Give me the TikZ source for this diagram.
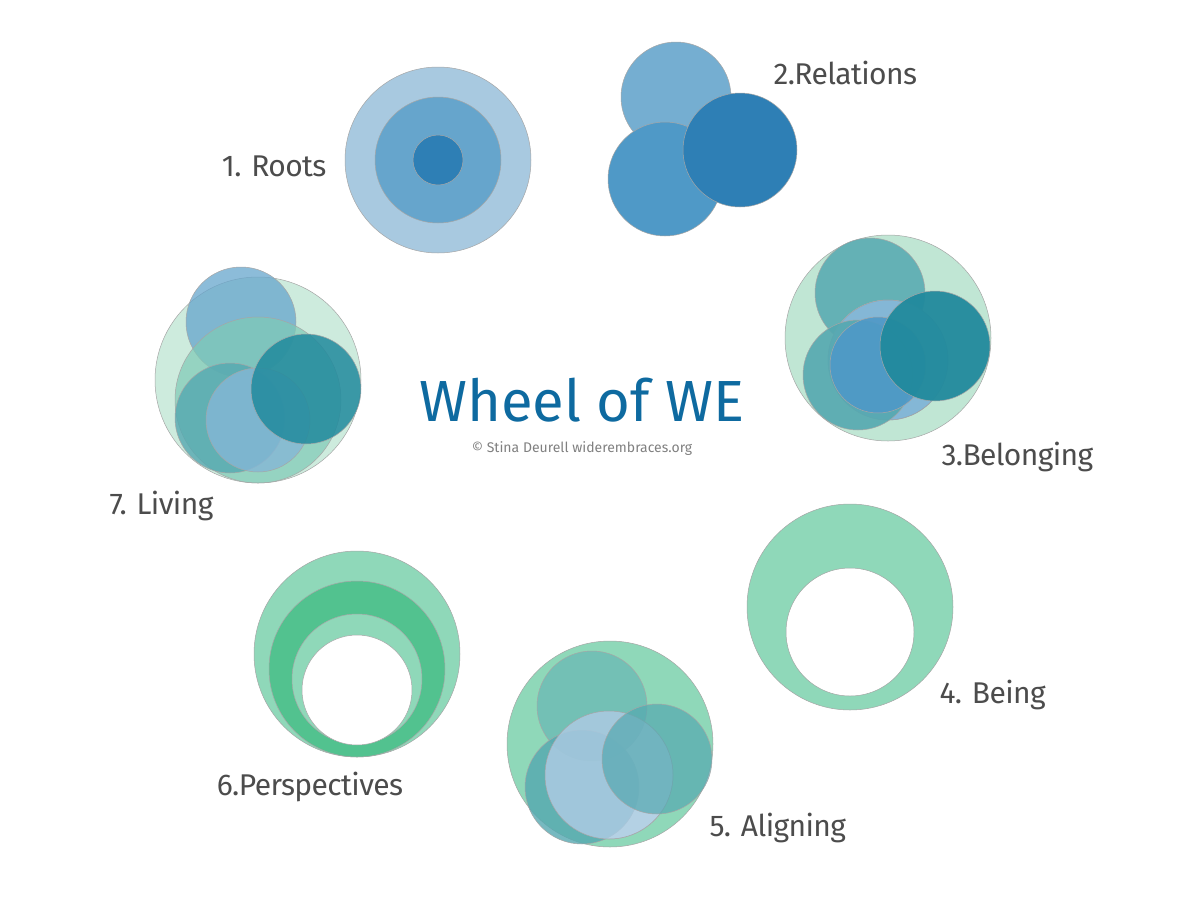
\documentclass[tikz,border=0pt]{standalone}
\usepackage{fontspec}
\setmainfont{Fira Sans}
\begin{document}
\begin{tikzpicture}[x=1pt,y=-1pt,
  c/.style={draw=black!35,line width=0.5pt,fill opacity=0.85},
  lab/.style={text=black!70,font=\fontsize{30}{32}\selectfont\addfontfeatures{LetterSpace=-2}}]
\definecolor{lb}{HTML}{A8C9E0}\definecolor{mb}{HTML}{66A5CC}\definecolor{db}{HTML}{2E7FB5}
\definecolor{b2}{HTML}{4F99C7}\definecolor{lg}{HTML}{8FD8B9}\definecolor{vlg}{HTML}{C0E6D4}
\definecolor{tl}{HTML}{55A8B0}\definecolor{dt}{HTML}{218A9D}\definecolor{mg}{HTML}{52C28F}
\definecolor{title}{HTML}{0E6AA0}
\useasboundingbox (0,0) rectangle (1200,900);
% 1 Roots
\fill[c,fill=lb,fill opacity=1] (438,160) circle (93);
\fill[c,fill=mb,fill opacity=1] (438,160) circle (63);
\fill[c,fill=db,fill opacity=1] (438,160) circle (25);
% 2 Relations
\filldraw[c,fill=mb,fill opacity=0.9] (676,97) circle (55);
\filldraw[c,fill=b2,fill opacity=1] (665,179) circle (57);
\filldraw[c,fill=db,fill opacity=1] (740,150) circle (57);
% 3 Belonging
\filldraw[c,fill=vlg,fill opacity=1] (888,338) circle (103);
\filldraw[c,fill=tl] (870,293) circle (55);
\filldraw[c,fill=white,fill opacity=1] (888,360) circle (60);
\filldraw[c,fill=mb,fill opacity=0.8] (888,360) circle (60);
\filldraw[c,fill=tl,fill opacity=0.9] (858,375) circle (55);
\filldraw[c,fill=b2,fill opacity=0.9] (878,365) circle (48);
\filldraw[c,fill=dt,fill opacity=0.95] (935,346) circle (55);
% 4 Being
\filldraw[c,fill=lg,fill opacity=1,even odd rule] (850,607) circle (103) (850,632) circle (64);
% 5 Aligning
\filldraw[c,fill=lg,fill opacity=1] (610,744) circle (103);
\filldraw[c,fill=white,fill opacity=1] (609,775) circle (64);
\filldraw[c,fill=tl!60!lg,fill opacity=0.8] (592,706) circle (55);
\filldraw[c,fill=tl,fill opacity=0.8] (582,787) circle (57);
\filldraw[c,fill=lb,fill opacity=0.85] (609,775) circle (64);
\filldraw[c,fill=tl,fill opacity=0.7] (657,759) circle (55);
% 6 Perspectives
\filldraw[c,fill=lg,fill opacity=1] (357,654) circle (103);
\filldraw[c,fill=mg,fill opacity=1] (357,669) circle (88);
\filldraw[c,fill=lg,fill opacity=1] (357,679) circle (65);
\filldraw[c,fill=white,fill opacity=1] (357,690) circle (55);
% 7 Living
\filldraw[c,fill=vlg!80!white,fill opacity=1] (258,380) circle (103);
\filldraw[c,fill=mb,fill opacity=0.75] (241,322) circle (55);
\filldraw[c,fill=lg!70!tl,fill opacity=0.7] (258,400) circle (83);
\filldraw[c,fill=tl,fill opacity=0.8] (230,418) circle (55);
\filldraw[c,fill=mb!80!white,fill opacity=0.8] (258,420) circle (52);
\filldraw[c,fill=dt,fill opacity=0.85] (306,389) circle (55);
% texts
\node[lab,anchor=east] (l1) at (330,166) {1. Roots};
\node[lab,anchor=west] (l2) at (770,73) {2.Relations};
\node[lab,anchor=west] (l3) at (938,457) {3.Belonging};
\node[lab,anchor=west] (l4) at (936,695) {4. Being};
\node[lab,anchor=west] (l5) at (706,828) {5. Aligning};
\node[lab] (l6) at (310,787) {6.Perspectives};
\node[lab,anchor=west] (l7) at (106,506) {7. Living};
\node[text=title,font=\fontsize{58}{60}\selectfont] (t) at (582,400) {Wheel of WE};
\node[text=black!50,font=\fontsize{14}{16}\selectfont] (cp) at (582,449) {© Stina Deurell widerembraces.org};
\end{tikzpicture}
\end{document}
